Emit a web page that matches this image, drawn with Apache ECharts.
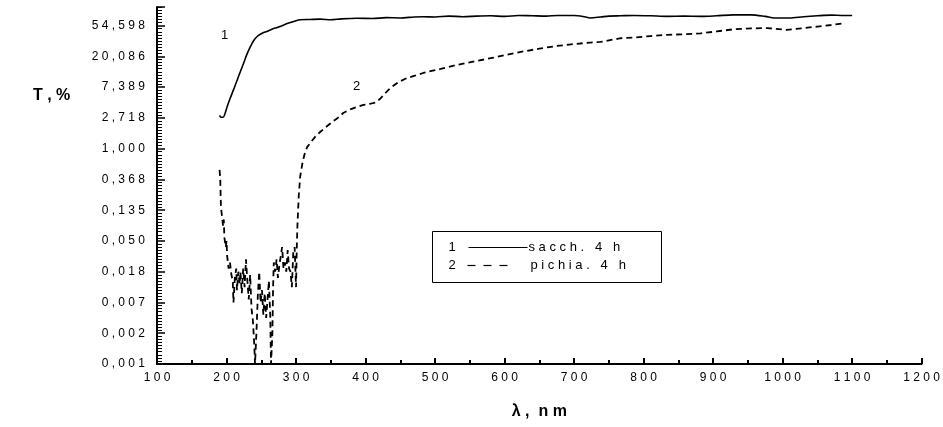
<!DOCTYPE html>
<html>
<head>
<meta charset="utf-8">
<script src="https://cdn.jsdelivr.net/npm/echarts@6/dist/echarts.min.js"></script>
<style>
  html, body { margin: 0; padding: 0; background: #fff; }
  #chart { width: 943px; height: 427px; }
</style>
</head>
<body>
<div id="chart"></div>
<script>
// curve 1 : sacch. 4 h  (values are ln T)
const lambda1 = [190, 192, 195, 198, 201, 205, 210, 215, 220, 225, 229, 233, 237, 241, 246, 252, 258, 263, 270, 277,
    284, 292, 300, 306, 320, 335, 350, 365, 388, 410, 430, 450, 470, 483, 500, 520, 540, 560, 580, 600,
    620, 640, 660, 676, 700, 715, 723, 738, 750, 767, 786, 810, 834, 858, 882, 905, 929, 955, 975, 988,
    1010, 1030, 1050, 1070, 1085, 1100];
const lnT1 = [1.08, 1.02, 1.02, 1.15, 1.37, 1.62, 1.91, 2.21, 2.51, 2.80, 3.05, 3.25, 3.43, 3.57, 3.68, 3.76, 3.81, 3.86, 3.92, 3.97,
    4.04, 4.10, 4.16, 4.19, 4.20, 4.21, 4.19, 4.22, 4.24, 4.23, 4.26, 4.25, 4.28, 4.29, 4.28, 4.31, 4.29, 4.31, 4.32, 4.30,
    4.33, 4.32, 4.31, 4.33, 4.33, 4.29, 4.25, 4.28, 4.31, 4.32, 4.33, 4.32, 4.30, 4.31, 4.30, 4.32, 4.35, 4.35, 4.30, 4.25,
    4.25, 4.29, 4.32, 4.34, 4.33, 4.33];

// curve 2 : pichia. 4 h
const lambda2 = [190, 191, 192, 193, 195, 196, 197, 199, 200, 201, 203, 205, 207, 209, 210, 212, 214, 215, 217, 219,
    220, 222, 224, 226, 228, 230, 232, 234, 236, 238, 240, 241, 243, 245, 247, 249, 251, 253, 255, 257,
    259, 261, 263, 264, 266, 267, 268, 270, 272, 274, 276, 278, 280, 282, 284, 286, 288, 290, 292, 294,
    296, 298, 300, 301, 302, 304, 306, 309, 312, 316, 321, 328, 335, 344, 352, 360, 368, 378, 388, 397,
    407, 414, 421, 428, 436, 448, 460, 472, 483, 495, 508, 520, 531, 555, 580, 603, 627, 650, 675, 700,
    723, 738, 767, 786, 810, 834, 858, 882, 905, 929, 955, 978, 1006, 1030, 1050, 1070, 1090];
const lnT2 = [-0.69, -1.0, -1.9, -2.1, -2.5, -2.3, -2.9, -3.2, -3.0, -3.5, -3.9, -3.7, -4.1, -4.3, -5.0, -4.2, -3.9, -4.6, -4.0, -4.4,
    -4.0, -4.7, -3.9, -4.5, -3.6, -4.3, -4.9, -4.1, -5.2, -5.6, -6.4, -7.0, -6.0, -4.8, -4.0, -5.0, -4.6, -5.4, -4.7, -5.5,
    -4.9, -4.3, -5.5, -7.0, -6.0, -4.5, -3.7, -4.0, -3.6, -4.2, -3.8, -3.5, -3.2, -3.9, -3.7, -4.0, -3.3, -3.9, -4.0, -4.5,
    -3.4, -3.2, -4.5, -3.3, -2.5, -1.5, -0.9, -0.5, -0.2, 0.05, 0.2, 0.4, 0.55, 0.72, 0.87, 1.0, 1.16, 1.28, 1.36, 1.42,
    1.46, 1.5, 1.62, 1.8, 1.98, 2.17, 2.30, 2.38, 2.46, 2.53, 2.59, 2.66, 2.72, 2.83, 2.94, 3.05, 3.16, 3.25, 3.34, 3.40,
    3.45, 3.47, 3.59, 3.61, 3.66, 3.70, 3.72, 3.75, 3.81, 3.88, 3.91, 3.92, 3.86, 3.92, 3.97, 4.02, 4.08];

// y tick labels, e^n for n = -7 .. 4
const yTickLabels = ['0,001', '0,002', '0,007', '0,018', '0,050', '0,135', '0,368', '1,000', '2,718', '7,389', '20,086', '54,598'];
const legendNames = ['sacch. 4 h', 'pichia. 4 h'];

const chart = echarts.init(document.getElementById('chart'));

// spread letters like the original plot
function spaced(s, sep) {
    return s.split('').join(sep || ' ');
}

function pairs(xs, ys) {
    return xs.map(function (x, i) { return [x, ys[i]]; });
}

const font = 'Liberation Sans, Arial, sans-serif';

chart.setOption({
    animation: false,
    backgroundColor: '#fff',
    grid: {
        left: 157,
        right: 21,
        top: 7,
        bottom: 63
    },
    xAxis: {
        type: 'value',
        min: 100,
        max: 1200,
        interval: 100,
        name: 'λ ,  n m',
        nameLocation: 'middle',
        nameGap: 40,
        nameTextStyle: { color: '#000', fontSize: 16, fontWeight: 'bold', fontFamily: font },
        axisLine: { onZero: false, lineStyle: { color: '#000', width: 2 } },
        axisTick: { show: true, inside: true, length: 6, lineStyle: { color: '#000', width: 2 } },
        minorTick: { show: true, splitNumber: 2, length: 4, lineStyle: { color: '#000', width: 2 } },
        splitLine: { show: false },
        axisLabel: {
            color: '#000',
            fontSize: 12,
            fontFamily: font,
            margin: 8,
            formatter: function (v) { return spaced(String(v)); }
        }
    },
    yAxis: {
        type: 'value',
        min: -7,
        max: Math.log(100),
        interval: 1,
        axisLine: { show: true, onZero: false, lineStyle: { color: '#000', width: 2 } },
        axisTick: { show: true, inside: true, length: 8, lineStyle: { color: '#000', width: 1.5 } },
        minorTick: { show: true, splitNumber: 10, length: 5, lineStyle: { color: '#000', width: 1 } },
        splitLine: { show: false },
        axisLabel: {
            color: '#000',
            fontSize: 12,
            fontFamily: font,
            margin: 12,
            showMaxLabel: false,
            formatter: function (v) {
                const t = yTickLabels[Math.round(v) + 7];
                return t ? spaced(t) : '';
            }
        }
    },
    series: [
        {
            name: legendNames[0],
            type: 'line',
            data: pairs(lambda1, lnT1),
            showSymbol: false,
            smooth: 0.3,
            lineStyle: { color: '#000', width: 1.6 }
        },
        {
            name: legendNames[1],
            type: 'line',
            data: pairs(lambda2, lnT2),
            showSymbol: false,
            lineStyle: { color: '#000', width: 1.8, type: [6, 4] }
        }
    ],
    graphic: [
        {
            type: 'text', left: 33, top: 88,
            style: { text: 'T , %', fill: '#000', font: 'bold 16px ' + font }
        },
        {
            type: 'text', left: 221, top: 29,
            style: { text: '1', fill: '#000', font: '13px ' + font }
        },
        {
            type: 'text', left: 353, top: 80,
            style: { text: '2', fill: '#000', font: '13px ' + font }
        },
        {
            type: 'group', left: 432, top: 231,
            children: [
                { type: 'rect', shape: { x: 0, y: 0, width: 229, height: 51 },
                  style: { fill: '#fff', stroke: '#000', lineWidth: 1 } },
                { type: 'text', x: 16, y: 9, style: { text: '1', fill: '#000', font: '13px ' + font } },
                { type: 'line', shape: { x1: 36, y1: 16, x2: 95, y2: 16 },
                  style: { stroke: '#000', lineWidth: 1.2 } },
                { type: 'text', x: 96, y: 9, style: { text: spaced(legendNames[0]), fill: '#000', font: '13px ' + font } },
                { type: 'text', x: 16, y: 27, style: { text: '2', fill: '#000', font: '13px ' + font } },
                { type: 'line', shape: { x1: 35, y1: 34, x2: 79, y2: 34 },
                  style: { stroke: '#000', lineWidth: 1.2, lineDash: [8, 8] } },
                { type: 'text', x: 98, y: 27, style: { text: spaced(legendNames[1]), fill: '#000', font: '13px ' + font } }
            ]
        }
    ]
});
</script>
</body>
</html>
